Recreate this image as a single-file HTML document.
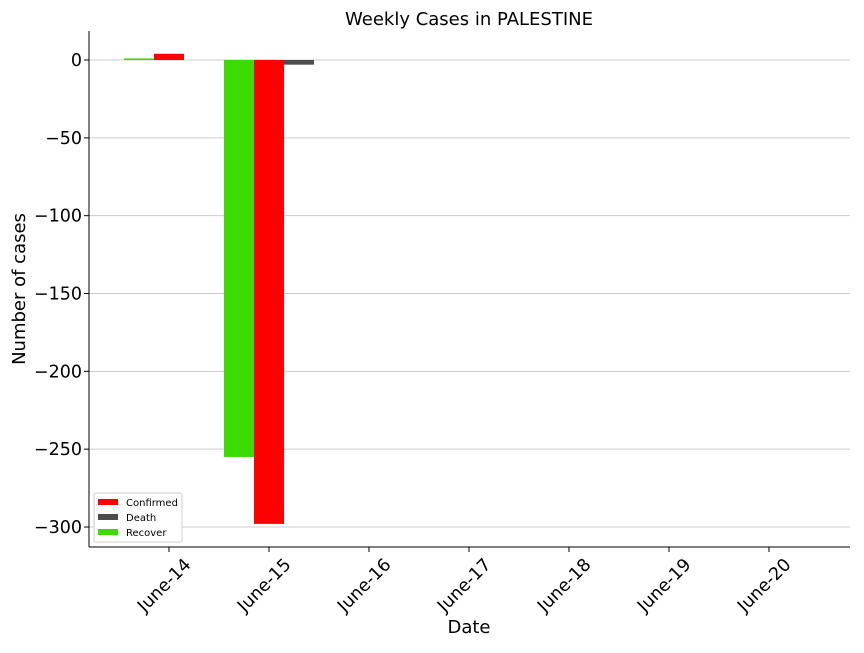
<!DOCTYPE html>
<html><head><meta charset="utf-8"><style>
body{margin:0;background:#fff;}
svg text{font-family:"DejaVu Sans","Liberation Sans",sans-serif;fill:#000;}
</style></head><body>
<svg id="chart" width="864" height="648" xmlns="http://www.w3.org/2000/svg">
<text x="469" y="25" font-size="18" text-anchor="middle">Weekly Cases in PALESTINE</text>
<g id="grid"></g><g id="bars"></g><g id="axes"></g>
<text x="469" y="633" font-size="18" text-anchor="middle">Date</text>
<text transform="translate(25,289) rotate(-90)" font-size="18" text-anchor="middle">Number of cases</text>
<g>
<rect x="94" y="493" width="88" height="49" fill="#fff" stroke="#ccc" rx="2"/>
<rect x="98" y="499" width="20" height="6" fill="#ff0000"/><text x="126" y="506" font-size="10">Confirmed</text>
<rect x="98" y="514" width="20" height="6" fill="#4d4d4d"/><text x="126" y="521" font-size="10">Death</text>
<rect x="98" y="529" width="20" height="6" fill="#3ddc00"/><text x="126" y="536" font-size="10">Recover</text>
</g>
</svg>
<script>
const categories=["June-14","June-15","June-16","June-17","June-18","June-19","June-20"];
const recover=[1,-255,0,0,0,0,0];
const confirmed=[4,-298,0,0,0,0,0];
const death=[0,-3,0,0,0,0,0];
const yTicks=[0,-50,-100,-150,-200,-250,-300];
const NS="http://www.w3.org/2000/svg";
const y=v=>60-(v)*467/300;
const x=i=>169+i*100;
function mk(tag,attrs,parent){const e=document.createElementNS(NS,tag);for(const k in attrs)e.setAttribute(k,attrs[k]);document.getElementById(parent).appendChild(e);return e;}
yTicks.forEach(t=>{
 const l=mk('line',{x1:89,x2:850,y1:y(t),y2:y(t),stroke:'#cccccc','stroke-width':1},'grid');
 
 
 mk('line',{x1:84,x2:89,y1:y(t),y2:y(t),stroke:'#000'},'axes');
 const tx=mk('text',{x:82,y:y(t)+6,'font-size':17.5,'text-anchor':'end'},'axes');
 tx.textContent=t<0?'\u2212'+Math.abs(t):t;
 
 
});
const series=[[recover,'#3ddc00',-45,'recover'],[confirmed,'#ff0000',-15,'confirmed'],[death,'#4d4d4d',15,'death']];
series.forEach(([vals,col,off,nm])=>{
 vals.forEach((v,i)=>{
  if(v===0)return;
  const r=mk('rect',{x:x(i)+off,width:30,y:Math.min(y(0),y(v)),height:Math.abs(y(v)-y(0)),fill:col},'bars');
  
  
 });
});
mk('line',{x1:89,x2:89,y1:31,y2:547,stroke:'#000'},'axes');
mk('line',{x1:89,x2:850,y1:547,y2:547,stroke:'#000'},'axes');
categories.forEach((c,i)=>{
 mk('line',{x1:x(i),x2:x(i),y1:547,y2:552,stroke:'#000'},'axes');
 const t=mk('text',{'font-size':17.5,'text-anchor':'middle',transform:`translate(${x(i)-5},${585}) rotate(-45)`,dy:6},'axes');
 t.textContent=c;
 
 
});
</script>
</body></html>
